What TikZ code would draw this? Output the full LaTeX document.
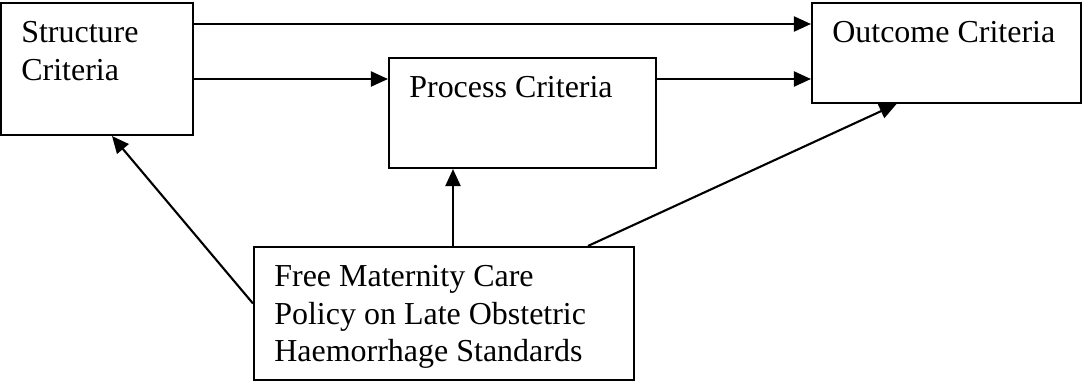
\documentclass[tikz,border=0pt]{standalone}
\usepackage{fontspec}
\setmainfont{Liberation Serif}
\usetikzlibrary{arrows.meta}
\usetikzlibrary{calc}

\begin{document}
\begin{tikzpicture}[
		x=0.02cm, y=-0.02cm,
		crit/.style={draw, line width=1.2pt, inner sep=0pt},
		crittext/.style={anchor=north west, inner sep=0pt, align=left,
			xshift=0.42cm, yshift=-0.39cm,
			font=\fontsize{18.2}{21.2}\selectfont},
		arr/.style={line width=1.2pt, -{Triangle[length=0.34cm, width=0.3cm]}}
	]
	\useasboundingbox (0,0) rectangle (1082,382);
	
	\node[crit, minimum width=3.84cm, minimum height=2.64cm,
		label={[crittext]north west:Structure\\Criteria}]
		(structure) at (97,69) {};
	
	\node[crit, minimum width=5.34cm, minimum height=2.2cm,
		label={[crittext]north west:Process Criteria}]
		(process) at (522.5,113) {};
	
	\node[crit, minimum width=5.38cm, minimum height=2cm,
		label={[crittext]north west:Outcome Criteria}]
		(outcome) at (946.5,53) {};
	
	\node[crit, minimum width=7.6cm, minimum height=2.66cm,
		label={[crittext]north west:Free Maternity Care\\Policy on Late Obstetric\\Haemorrhage Standards}]
		(policy) at (444,313.5) {};
	
	\coordinate (upper) at (0,24);
	\coordinate (lower) at (0,79);
	\coordinate (mid) at (453,0);
	
	\draw[arr]
		(structure.east |- upper) -- (outcome.west |- upper);
	\draw[arr]
		(structure.east |- lower) -- (process.west |- lower);
	\draw[arr]
		(process.east |- lower) -- (outcome.west |- lower);
	
	\draw[arr]
		(policy.north -| mid) -- (process.south -| mid);
	\draw[arr]
		($(policy.west)+(0,-10)$) -- ($(structure.south)+(15,0)$);
	\draw[arr]
		($(policy.north)+(144,0)$) -- ($(outcome.south)+(-50,0)$);
\end{tikzpicture}
\end{document}
